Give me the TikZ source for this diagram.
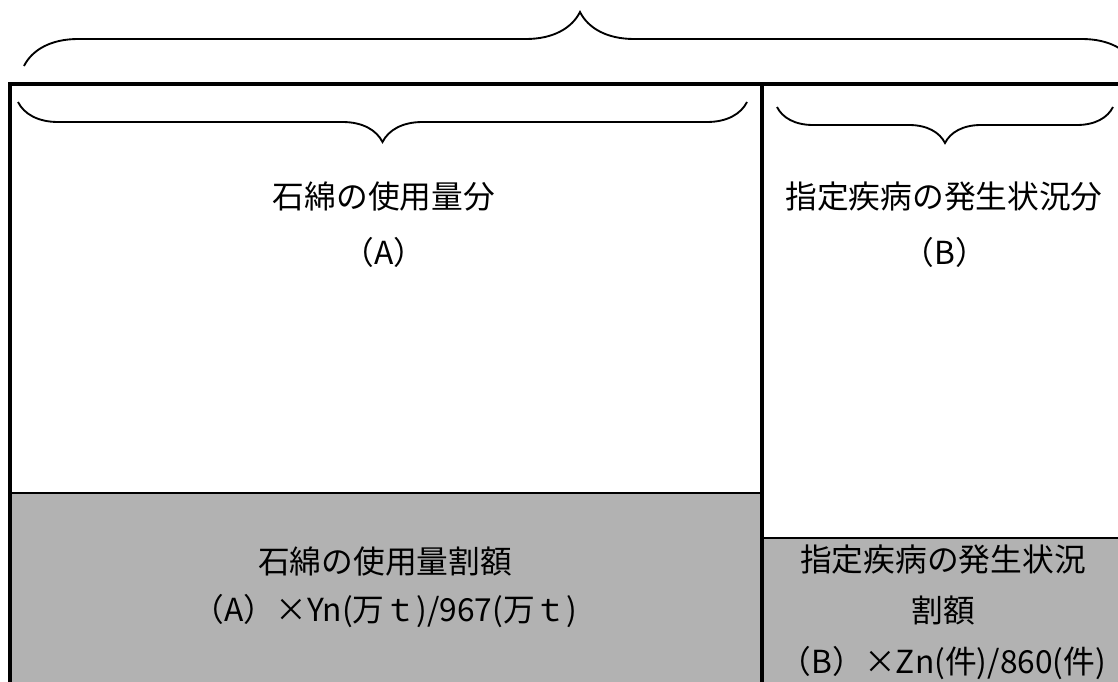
\documentclass[tikz,border=0pt]{standalone}
\usepackage{fontspec}
\newfontfamily\jpfont{Noto Sans CJK JP}
\usetikzlibrary{decorations.pathreplacing}
\definecolor{sharegray}{HTML}{B2B2B2}

\begin{document}
\begin{tikzpicture}[
    x=0.75pt, y=-0.75pt,
    sharetext/.style={inner sep=0pt, font=\jpfont\fontsize{23.8}{28}\selectfont, text height=0.88em, text depth=0.12em},
    bracket/.style={draw, line width=1.4pt, decorate, decoration={brace, amplitude=#1}},
    frame/.style={line width=3.6pt},
    split/.style={line width=1.9pt},
]
    \useasboundingbox (0,0) rectangle (1118,682);
    \clip (0,0) rectangle (1118,682);

    %areas
    \fill[sharegray] (10,493) rectangle (762,682);
    \fill[sharegray] (762,538) rectangle (1118,682);
    \draw[split] (10,493) -- (762,493);
    \draw[split] (762,538) -- (1118,538);
    \draw[frame] (8,84) -- (1118,84);
    \draw[frame] (10,82) -- (10,682);
    \draw[frame] (762,84) -- (762,682);

    %braces
    \draw[bracket=40.5pt] (24,66) -- (1136,66);
    \draw[bracket=30pt] (747,102) -- (18,102);
    \draw[bracket=27pt] (1113,107) -- (777,107);

    %texts
    \node[sharetext] (usage) at (384,203) {石綿の使用量分};
    \node[sharetext] (usageA) at (384,259) {（A）};
    \node[sharetext] (disease) at (944,203) {指定疾病の発生状況分};
    \node[sharetext] (diseaseB) at (945,259) {（B）};
    \node[sharetext] (usageshare) at (385,568) {石綿の使用量割額};
    \node[sharetext] (usagecalc) at (385,616) {（A）×Yn(万ｔ)/967(万ｔ)};
    \node[sharetext] (diseaseshare) at (943,566) {指定疾病の発生状況};
    \node[sharetext] (diseaseshare2) at (943,617) {割額};
    \node[sharetext] (diseasecalc) at (943,668) {（B）×Zn(件)/860(件)};
\end{tikzpicture}
\end{document}
